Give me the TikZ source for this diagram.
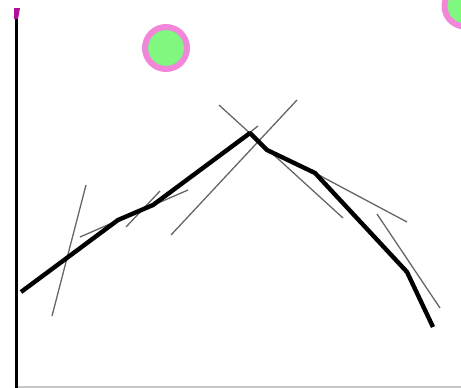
\documentclass[tikz,border=0pt]{standalone}
\begin{document}
\begin{tikzpicture}[x=1pt,y=-1pt,
  curve/.style={line width=4.4pt,line join=round,black},
  tangent/.style={line width=1.3pt,gray!80!black},
  axis/.style={line width=3pt,black},
  baseaxis/.style={line width=1.3pt,gray!45},
  blob/.style={draw=pinkc,fill=greenc,line width=6pt}]
\definecolor{pinkc}{HTML}{F286D8}
\definecolor{greenc}{HTML}{80F880}
\definecolor{magc}{HTML}{B0109A}
\useasboundingbox (0,0) rectangle (461,388);
% axes
\coordinate (ytop) at (16,8);
\coordinate (orig) at (16,388);
\coordinate (xend) at (461,387);
\coordinate (xst) at (16,387);
\draw[baseaxis] (xst) -- (xend);
\draw[axis] (ytop) -- (orig);
\fill[magc] (14,8) -- (20,8) -- (18,19) -- (14,19) -- cycle;
% circles
\coordinate (c1) at (166,48);
\coordinate (c2) at (465,6);
\draw[blob] (c1) circle[radius=21];
\draw[blob] (c2) circle[radius=20.5];
% tangent lines
\coordinate (t1a) at (86,185); \coordinate (t1b) at (52,316);
\coordinate (t2a) at (80,237); \coordinate (t2b) at (188,190);
\coordinate (t3a) at (126,227); \coordinate (t3b) at (160,191);
\coordinate (t4a) at (171,235); \coordinate (t4b) at (297,100);
\coordinate (t5a) at (219,105); \coordinate (t5b) at (343,218);
\coordinate (t6a) at (258,126); \coordinate (t6b) at (244,137);
\coordinate (t7a) at (300,165); \coordinate (t7b) at (407,222);
\coordinate (t8a) at (377,214); \coordinate (t8b) at (440,308);
\foreach \a/\b in {t1a/t1b,t2a/t2b,t3a/t3b,t4a/t4b,t5a/t5b,t6a/t6b,t7a/t7b,t8a/t8b}
  \draw[tangent] (\a) -- (\b);
% polyline
\coordinate (p0) at (21,292);
\coordinate (p1) at (118,220);
\coordinate (p2) at (153,205);
\coordinate (p3) at (250,133);
\coordinate (p4) at (267,150);
\coordinate (p5) at (315,173);
\coordinate (p6) at (407,272);
\coordinate (p7) at (433,327);
\draw[curve] (p0) -- (p1) -- (p2) -- (p3) -- (p4) -- (p5) -- (p6) -- (p7);
\end{tikzpicture}
\end{document}
